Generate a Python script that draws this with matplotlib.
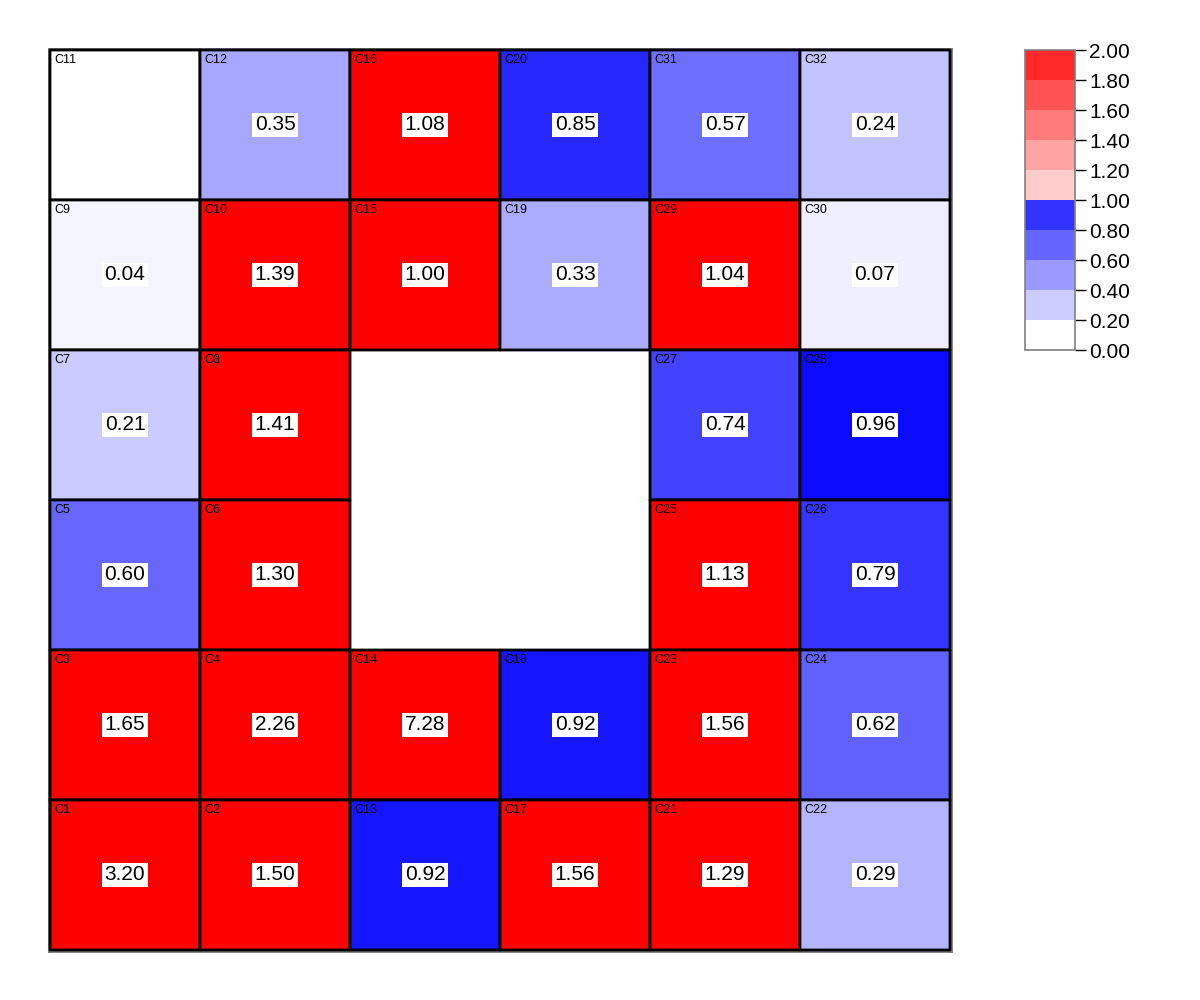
import numpy as np
import matplotlib
matplotlib.use("Agg")
import matplotlib.pyplot as plt
from matplotlib.colors import LinearSegmentedColormap, ListedColormap, BoundaryNorm, Normalize

plt.rcParams['font.family'] = ['Liberation Sans', 'DejaVu Sans']

# grid layout, top row first
cell_names = [
    ["C11", "C12", "C16", "C20", "C31", "C32"],
    ["C9", "C10", "C15", "C19", "C29", "C30"],
    ["C7", "C8", "", "", "C27", "C28"],
    ["C5", "C6", "", "", "C25", "C26"],
    ["C3", "C4", "C14", "C18", "C23", "C24"],
    ["C1", "C2", "C13", "C17", "C21", "C22"],
]
nan = np.nan
cell_values = np.array([
    [nan, 0.35, 1.08, 0.85, 0.57, 0.24],
    [0.04, 1.39, 1.00, 0.33, 1.04, 0.07],
    [0.21, 1.41, nan, nan, 0.74, 0.96],
    [0.60, 1.30, nan, nan, 1.13, 0.79],
    [1.65, 2.26, 7.28, 0.92, 1.56, 0.62],
    [3.20, 1.50, 0.92, 1.56, 1.29, 0.29],
])

# colorbar legend
cbar_bounds = [0.0, 0.2, 0.4, 0.6, 0.8, 1.0, 1.2, 1.4, 1.6, 1.8, 2.0]
cbar_colors = ["#ffffff", "#ccccff", "#9999ff", "#6666ff", "#3333ff",
               "#ffcccc", "#ffa3a3", "#ff7a7a", "#ff5252", "#ff2929"]

hole = np.array([[name == "" for name in row] for row in cell_names])

# cells: white->blue below 1, plain red from 1 up
cell_cmap = LinearSegmentedColormap.from_list(
    "bluered", [(0.0, "#ffffff"), (0.5, "#0000ff"), (0.5, "#ff0000"), (1.0, "#ff0000")])
cell_cmap.set_over("#ff0000")
cell_cmap.set_bad("#ffffff")

colour_vals = np.where(np.isnan(cell_values) & ~hole, 0.0, cell_values)
colour_vals = np.ma.masked_array(colour_vals, mask=hole)

fig = plt.figure(figsize=(12, 10), dpi=100)
ax = fig.add_axes([50 / 1200, 50 / 1000, 900 / 1200, 900 / 1000])

nrows, ncols = cell_values.shape
ax.pcolor(np.arange(ncols + 1), np.arange(nrows + 1), colour_vals,
          cmap=cell_cmap, norm=Normalize(0, 2), edgecolors="black", linewidth=2,
          zorder=3, clip_on=False)
ax.set_xlim(0, ncols)
ax.set_ylim(nrows, 0)
ax.set_xticks([])
ax.set_yticks([])
for s in ax.spines.values():
    s.set_color("#808080")
    s.set_linewidth(3.5)
    s.set_zorder(1)

for i in range(nrows):
    for j in range(ncols):
        if hole[i, j]:
            continue
        ax.text(j + 0.03, i + 0.07, cell_names[i][j], fontsize=9, ha="left", va="center",
                zorder=4)
        v = cell_values[i, j]
        if not np.isnan(v):
            ax.text(j + 0.5, i + 0.5, f"{v:.2f}", fontsize=15, ha="center", va="center",
                    zorder=4, bbox=dict(facecolor="white", edgecolor="none", pad=2))

# discrete legend bar
cax = fig.add_axes([1025 / 1200, 650 / 1000, 50 / 1200, 300 / 1000])
cb = fig.colorbar(plt.cm.ScalarMappable(norm=BoundaryNorm(cbar_bounds, len(cbar_colors)),
                                        cmap=ListedColormap(cbar_colors)),
                  cax=cax, ticks=cbar_bounds, format="%.2f")
cb.outline.set_edgecolor("#808080")
cb.outline.set_linewidth(1.2)
cax.tick_params(length=8, width=1, labelsize=15, pad=2)

fig.savefig("out.png", dpi=100)
